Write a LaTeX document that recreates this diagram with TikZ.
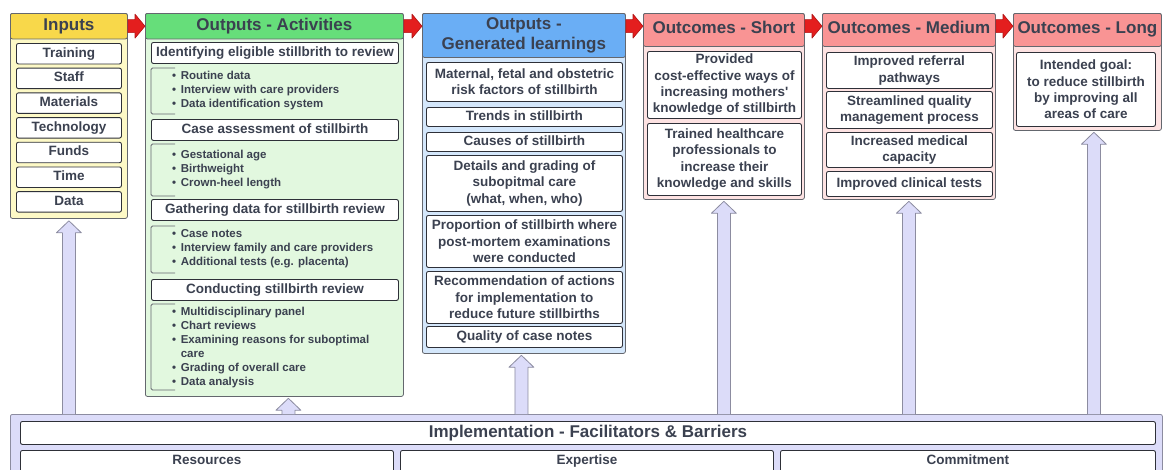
\documentclass[tikz,border=0pt]{standalone}
\usepackage{fontspec}
\setmainfont{Liberation Sans}
\usetikzlibrary{calc}

\definecolor{ink}{HTML}{3B4150}
\definecolor{colline}{HTML}{64676E}
\definecolor{itemline}{HTML}{2E3038}
\definecolor{yhead}{HTML}{F8D84A}
\definecolor{ybody}{HTML}{FDF9C6}
\definecolor{ghead}{HTML}{66DE7A}
\definecolor{gbody}{HTML}{E2F8DF}
\definecolor{bhead}{HTML}{6AAEF5}
\definecolor{bbody}{HTML}{D4E7FB}
\definecolor{shead}{HTML}{F99494}
\definecolor{sbody}{HTML}{FDE2E2}
\definecolor{lav}{HTML}{DCDCF9}
\definecolor{lavline}{HTML}{8C8CA0}
\definecolor{redfill}{HTML}{E41E1E}
\definecolor{redline}{HTML}{B01414}

\newcommand{\hdfont}{\fontsize{17}{20}\selectfont\bfseries}
\newcommand{\itfont}{\fontsize{13.5}{16.3}\selectfont\bfseries}
\newcommand{\bufont}{\fontsize{11.5}{14}\selectfont\bfseries}

% block arrow pointing up from the bottom panel to a column
\newcommand{\blockup}[2]{%
  \fill[lav] let \p1=#1, \p2=#2 in
    (\x2-6.5pt,\y1) -- (\x2-6.5pt,\y2-12pt) -- (\x2-12.5pt,\y2-12pt) -- (\x2,\y2)
    -- (\x2+12.5pt,\y2-12pt) -- (\x2+6.5pt,\y2-12pt) -- (\x2+6.5pt,\y1) -- cycle;
  \draw[draw=lavline, line width=0.8pt, line join=round] let \p1=#1, \p2=#2 in
    (\x2-6.5pt,\y1) -- (\x2-6.5pt,\y2-12pt) -- (\x2-12.5pt,\y2-12pt) -- (\x2,\y2)
    -- (\x2+12.5pt,\y2-12pt) -- (\x2+6.5pt,\y2-12pt) -- (\x2+6.5pt,\y1);}

% red block arrow between column headers
\newcommand{\redarr}[2]{%
  \draw[fill=redfill, draw=redline, line width=0.6pt, line join=round] let \p1=#1, \p2=#2 in
    (\x1,\y1+6.5pt) -- (\x2-10pt,\y1+6.5pt) -- (\x2-10pt,\y1+12pt) -- (\x2,\y1)
    -- (\x2-10pt,\y1-12pt) -- (\x2-10pt,\y1-6.5pt) -- (\x1,\y1-6.5pt) -- cycle;}

\begin{document}
\begin{tikzpicture}[x=1pt,y=-1pt,
  col/.style={draw=colline, line width=0.8pt, rounded corners=2pt, anchor=north west, inner sep=0pt},
  head/.style={draw=colline, line width=0.8pt, rounded corners=2pt, anchor=north west,
    inner sep=0pt, align=center, font=\hdfont, text=ink},
  onehead/.style={head, text height=12.5pt, text depth=3pt},
  outhead/.style={head, text height=12.5pt, text depth=5.5pt},
  item/.style={draw=itemline, fill=white, line width=0.9pt, rounded corners=2pt,
    anchor=north west, inner sep=0pt, align=center, font=\itfont, text=ink},
  oneline/.style={item, text height=9.8pt, text depth=2.9pt},
  blist/.style={anchor=base west, inner sep=0pt, font=\bufont, text=ink, align=left},
  brace/.style={draw=colline, line width=0.8pt, rounded corners=1.5pt}
]
\useasboundingbox (0,0) rectangle (1168,469);
\clip (0,0) rectangle (1168,469);

% ---------- Inputs ----------
\node[col, fill=ybody, minimum width=117, minimum height=205] (inputs) at (10,13) {};
\node[onehead, fill=yhead, minimum width=117, minimum height=25.5] (inputsH) at (10,13) {Inputs};
\node[oneline, minimum width=105, minimum height=20.5] (in1) at (16,43) {Training};
\node[oneline, minimum width=105, minimum height=20.5] (in2) at (16,67.7) {Staff};
\node[oneline, minimum width=105, minimum height=20.5] (in3) at (16,92.4) {Materials};
\node[oneline, minimum width=105, minimum height=20.5] (in4) at (16,117.1) {Technology};
\node[oneline, minimum width=105, minimum height=20.5] (in5) at (16,141.8) {Funds};
\node[oneline, minimum width=105, minimum height=20.5] (in6) at (16,166.5) {Time};
\node[oneline, minimum width=105, minimum height=20.5] (in7) at (16,191.2) {Data};

% ---------- Outputs - Activities ----------
\node[col, fill=gbody, minimum width=258, minimum height=383] (act) at (145,13) {};
\node[onehead, fill=ghead, minimum width=258, minimum height=25.5] (actH) at (145,13) {Outputs - Activities};
\node[oneline, minimum width=247, minimum height=21] (a1) at (151,42) {Identifying eligible stillbrith to review};
\node[oneline, minimum width=247, minimum height=21] (a2) at (151,119) {Case assessment of stillbirth};
\node[oneline, minimum width=247, minimum height=21] (a3) at (151,199) {Gathering data for stillbirth review};
\node[oneline, minimum width=247, minimum height=21] (a4) at (151,279) {Conducting stillbirth review};

\draw[brace] (175,68) -- (151,68) -- (151,114) -- (175,114);
\node[blist] (b1) at (172,79.5) {\begin{tabular}[t]{@{}l@{\hspace{4.6pt}}l@{}}
\textbullet & Routine data\\
\textbullet & Interview with care providers\\
\textbullet & Data identification system
\end{tabular}};

\draw[brace] (175,144) -- (151,144) -- (151,196) -- (175,196);
\node[blist] (b2) at (172,158) {\begin{tabular}[t]{@{}l@{\hspace{4.6pt}}l@{}}
\textbullet & Gestational age\\
\textbullet & Birthweight\\
\textbullet & Crown-heel length
\end{tabular}};

\draw[brace] (175,226) -- (151,226) -- (151,273) -- (175,273);
\node[blist] (b3) at (172,237.5) {\begin{tabular}[t]{@{}l@{\hspace{4.6pt}}l@{}}
\textbullet & Case notes\\
\textbullet & Interview family and care providers\\
\textbullet & Additional tests (e.g. placenta)
\end{tabular}};

\draw[brace] (175,304) -- (151,304) -- (151,390) -- (175,390);
\node[blist] (b4) at (172,315) {\begin{tabular}[t]{@{}l@{\hspace{4.6pt}}l@{}}
\textbullet & Multidisciplinary panel\\
\textbullet & Chart reviews\\
\textbullet & Examining reasons for suboptimal\\
 & care\\
\textbullet & Grading of overall care\\
\textbullet & Data analysis
\end{tabular}};

% ---------- Outputs - Generated learnings ----------
\node[col, fill=bbody, minimum width=203, minimum height=340] (gen) at (422,13) {};
\node[head, fill=bhead, minimum width=203, minimum height=44] (genH) at (422,13) {Outputs -\\Generated learnings};
\node[item, minimum width=196, minimum height=39] (g1) at (426,62) {Maternal, fetal and obstetric\\risk factors of stillbirth};
\node[oneline, minimum width=196, minimum height=19] (g2) at (426,107) {Trends in stillbirth};
\node[oneline, minimum width=196, minimum height=19] (g3) at (426,132) {Causes of stillbirth};
\node[item, minimum width=196, minimum height=56] (g4) at (426,155) {Details and grading of\\subopitmal care\\(what, when, who)};
\node[item, minimum width=196, minimum height=52] (g5) at (426,215) {Proportion of stillbirth where\\post-mortem examinations\\were conducted};
\node[item, minimum width=196, minimum height=52] (g6) at (426,271) {Recommendation of actions\\for implementation to\\reduce future stillbirths};
\node[oneline, minimum width=196, minimum height=21] (g7) at (426,326) {Quality of case notes};

% ---------- Outcomes - Short ----------
\node[col, fill=sbody, minimum width=161, minimum height=186] (short) at (643,13) {};
\node[outhead, fill=shead, minimum width=161, minimum height=33] (shortH) at (643,13) {Outcomes - Short};
\node[item, minimum width=154, minimum height=67] (s1) at (647,51) {Provided\\cost-effective ways of\\increasing mothers\textquotesingle\\knowledge of stillbirth};
\node[item, minimum width=154, minimum height=72] (s2) at (647,123) {Trained healthcare\\professionals to\\increase their\\knowledge and skills};

% ---------- Outcomes - Medium ----------
\node[col, fill=sbody, minimum width=173, minimum height=186] (med) at (822,13) {};
\node[outhead, fill=shead, minimum width=173, minimum height=33] (medH) at (822,13) {Outcomes - Medium};
\node[item, minimum width=166, minimum height=36] (m1) at (826,52) {Improved referral\\pathways};
\node[item, minimum width=166, minimum height=37] (m2) at (826,91) {Streamlined quality\\management process};
\node[item, minimum width=166, minimum height=35] (m3) at (826,132) {Increased medical\\capacity};
\node[oneline, minimum width=166, minimum height=25] (m4) at (826,171) {Improved clinical tests};

% ---------- Outcomes - Long ----------
\node[col, fill=sbody, minimum width=148, minimum height=117] (long) at (1013,13) {};
\node[outhead, fill=shead, minimum width=148, minimum height=33] (longH) at (1013,13) {Outcomes - Long};
\node[item, minimum width=139, minimum height=74] (l1) at (1016,52) {Intended goal:\\to reduce stillbirth\\by improving all\\areas of care};

% ---------- Implementation panel ----------
\node[col, fill=lav, draw=lavline, minimum width=1152, minimum height=70] (impl) at (10,414) {};
\node[item, minimum width=1135, minimum height=23, font=\hdfont, text height=12.3pt, text depth=3.5pt] (implT) at (20,421) {Implementation - Facilitators \& Barriers};
\node[oneline, minimum width=373, minimum height=22] (res) at (20,450) {Resources};
\node[oneline, minimum width=373, minimum height=22] (exp) at (400,450) {Expertise};
\node[oneline, minimum width=375, minimum height=22] (com) at (780,450) {Commitment};

% ---------- flow between columns ----------
\redarr{(inputsH.east)}{(actH.west)}
\redarr{(actH.east)}{(genH.west |- actH.west)}
\redarr{(genH.east |- actH.east)}{(shortH.west |- actH.west)}
\redarr{(shortH.east |- actH.east)}{(medH.west |- actH.west)}
\redarr{(medH.east |- actH.east)}{(longH.west |- actH.west)}

% ---------- influence of implementation ----------
\blockup{(impl.north)}{($(inputs.south)+(0,2)$)}
\blockup{(impl.north)}{($(act.south)+(14,1.5)$)}
\blockup{(impl.north)}{($(gen.south)+(-2.5,1.5)$)}
\blockup{(impl.north)}{($(short.south)+(0,1.5)$)}
\blockup{(impl.north)}{($(med.south)+(0,1.5)$)}
\blockup{(impl.north)}{($(long.south)+(6.5,1.5)$)}
\end{tikzpicture}
\end{document}
